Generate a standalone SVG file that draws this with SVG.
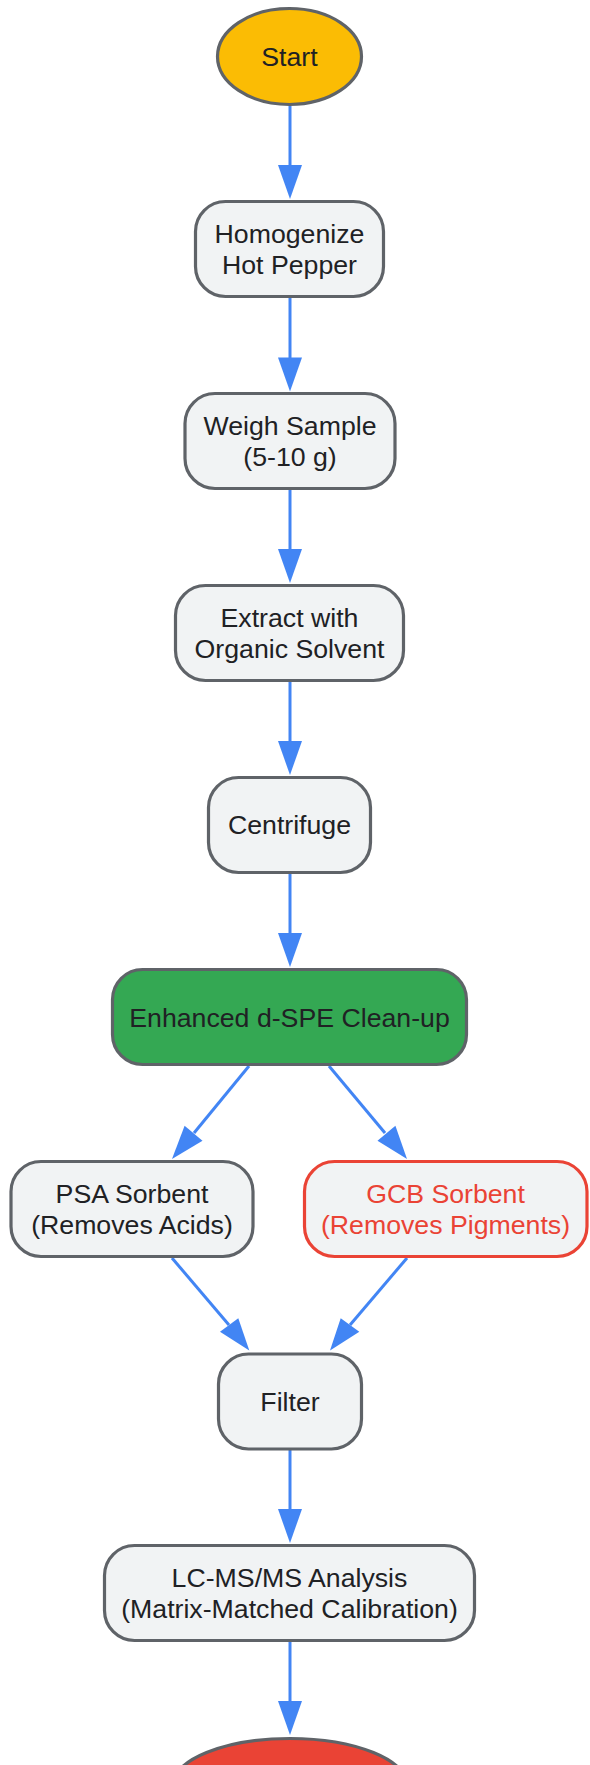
<svg xmlns="http://www.w3.org/2000/svg" width="590" height="1765" viewBox="0 0 590 1765">
<style>
.node rect, .node ellipse { stroke: #5f6368; stroke-width: 3.2; fill: #f1f3f4; }
.node text { font-family: "Liberation Sans", Arial, sans-serif; font-size: 26.7px; fill: #202124; text-anchor: middle; }
.edge line { stroke: #4285f4; stroke-width: 3; fill: none; }
.edge polygon { fill: #4285f4; stroke: none; }
#gcb rect { stroke: #ea4335; }
#gcb text { fill: #ea4335; }
</style>
<rect x="0" y="0" width="590" height="1765" fill="#ffffff"/>
<g id="connectors" class="edge">
  <line x1="290" y1="106" x2="290" y2="166"/>
  <polygon points="278,165 302,165 290,199"/>
  <line x1="290" y1="297" x2="290" y2="358"/>
  <polygon points="278,357.5 302,357.5 290,391.5"/>
  <line x1="290" y1="489" x2="290" y2="550"/>
  <polygon points="278,549 302,549 290,583"/>
  <line x1="290" y1="681" x2="290" y2="742"/>
  <polygon points="278,741 302,741 290,775"/>
  <line x1="290" y1="873" x2="290" y2="934"/>
  <polygon points="278,933 302,933 290,967"/>
  <line x1="249" y1="1066" x2="194" y2="1133"/>
  <polygon points="202.5,1140.7 184.6,1125.7 172,1159"/>
  <line x1="329" y1="1066" x2="385" y2="1133"/>
  <polygon points="395.4,1125.7 377.5,1140.7 407,1159"/>
  <line x1="172" y1="1258" x2="229" y2="1325"/>
  <polygon points="220,1331.7 238.3,1318.3 249.3,1350.5"/>
  <line x1="407" y1="1258" x2="350" y2="1325"/>
  <polygon points="340.7,1318.3 359.3,1331.7 330,1350.5"/>
  <line x1="290" y1="1449" x2="290" y2="1510"/>
  <polygon points="278,1509 302,1509 290,1543"/>
  <line x1="290" y1="1641" x2="290" y2="1702"/>
  <polygon points="278,1701 302,1701 290,1735"/>
</g>
<g id="start" class="node">
  <ellipse cx="289.5" cy="56.5" rx="72" ry="48" style="fill:#fbbc04"/>
  <text x="289.5" y="66">Start</text>
</g>
<g id="homogenize" class="node">
  <rect x="195.5" y="201.5" width="188" height="95" rx="30" ry="30"/>
  <text x="289.5" y="242.5">Homogenize</text>
  <text x="289.5" y="274">Hot Pepper</text>
</g>
<g id="weigh" class="node">
  <rect x="185" y="393.5" width="210" height="95" rx="30" ry="30"/>
  <text x="290" y="434.5">Weigh Sample</text>
  <text x="290" y="466">(5-10 g)</text>
</g>
<g id="extract" class="node">
  <rect x="175.5" y="585.5" width="228" height="95" rx="30" ry="30"/>
  <text x="289.5" y="626.5">Extract with</text>
  <text x="289.5" y="658">Organic Solvent</text>
</g>
<g id="centrifuge" class="node">
  <rect x="208.5" y="777.5" width="162" height="95" rx="30" ry="30"/>
  <text x="289.5" y="834">Centrifuge</text>
</g>
<g id="dspe" class="node">
  <rect x="112.5" y="969.5" width="354" height="95" rx="30" ry="30" style="fill:#34a853"/>
  <text x="289.5" y="1026.5">Enhanced d-SPE Clean-up</text>
</g>
<g id="psa" class="node">
  <rect x="11" y="1161.5" width="242" height="95" rx="30" ry="30"/>
  <text x="132" y="1202.5">PSA Sorbent</text>
  <text x="132" y="1234">(Removes Acids)</text>
</g>
<g id="gcb" class="node">
  <rect x="304.5" y="1161.5" width="282.5" height="95" rx="30" ry="30"/>
  <text x="445.5" y="1202.5">GCB Sorbent</text>
  <text x="445.5" y="1234">(Removes Pigments)</text>
</g>
<g id="filter" class="node">
  <rect x="218.5" y="1354" width="143" height="95" rx="30" ry="30"/>
  <text x="290" y="1411">Filter</text>
</g>
<g id="lcms" class="node">
  <rect x="104.5" y="1545.5" width="370" height="95" rx="30" ry="30"/>
  <text x="289.5" y="1586.5">LC-MS/MS Analysis</text>
  <text x="289.5" y="1618">(Matrix-Matched Calibration)</text>
</g>
<g id="end" class="node">
  <ellipse cx="290" cy="1786.5" rx="118" ry="48" style="fill:#ea4335"/>
</g>
</svg>
